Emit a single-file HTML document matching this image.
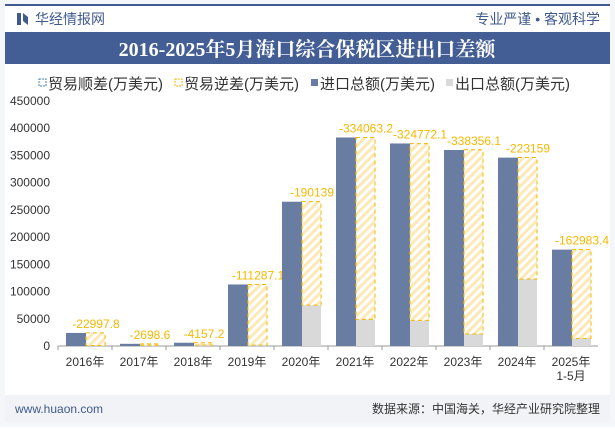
<!DOCTYPE html>
<html><head><meta charset="utf-8">
<style>
body{margin:0;width:615px;height:427px;overflow:hidden;background:#fff;font-family:"Liberation Sans","Noto Sans CJK SC",sans-serif;}
</style></head>
<body>
<svg id="c" width="615" height="427" xmlns="http://www.w3.org/2000/svg">
<defs>
<pattern id="hatch" width="6" height="6" patternUnits="userSpaceOnUse" patternTransform="rotate(45)">
<rect width="6" height="6" fill="#fff"/><rect width="3" height="6" fill="#fde9b8"/>
</pattern>
</defs>
<rect x="0" y="0" width="615" height="427" fill="#f4f6fa"/>
<rect x="5" y="5" width="605" height="417" fill="#fff"/>
<rect x="5" y="4" width="605" height="2" fill="#3f5a8e"/>
<g><rect x="17" y="13" width="4" height="12" fill="#3f5a8e"/><polygon points="23,13 28,17 28,25 23,21" fill="#3f5a8e"/></g>
<text x="35" y="24" font-size="14" fill="#3f5a8e">华经情报网</text>
<text x="600" y="24" font-size="14" fill="#3f5a8e" text-anchor="end">专业严谨 • 客观科学</text>
<rect x="5" y="32" width="605" height="32" fill="#435e94"/>
<text x="307" y="56" font-size="20" font-weight="bold" fill="#fff" text-anchor="middle" font-family="Liberation Serif,Noto Serif CJK SC,serif">2016-2025年5月海口综合保税区进出口差额</text>
<g font-size="15" fill="#333">
<g><rect x="39" y="79" width="7" height="7" fill="#fff" stroke="#4a7fb0" stroke-dasharray="2,1"/><text x="48" y="89">贸易顺差(万美元)</text></g>
<g><rect x="175" y="79" width="7" height="7" fill="#fff" stroke="#f5b800" stroke-dasharray="2,1"/><text x="184" y="89">贸易逆差(万美元)</text></g>
<g><rect x="311" y="79" width="7" height="7" fill="#697ca2"/><text x="320" y="89">进口总额(万美元)</text></g>
<g><rect x="446" y="79" width="7" height="7" fill="#d9d9d9"/><text x="455" y="89">出口总额(万美元)</text></g>
</g>
<g id="plot"></g>
<rect x="5" y="395" width="605" height="27" fill="#f1f3f7"/>
<text x="15" y="413" font-size="12" fill="#3f5a8e">www.huaon.com</text>
<text x="600" y="413" font-size="12" fill="#333" text-anchor="end">数据来源：中国海关，华经产业研究院整理</text>
</svg>
<script>
const categories=["2016年","2017年","2018年","2019年","2020年","2021年","2022年","2023年","2024年","2025年"];
const importVals=[24000,4000,6000,113000,265000,383000,372000,360000,346000,177000];
const exportVals=[1000,1300,1800,1700,75000,49000,47000,22000,123000,14000];
const deficitVals=[22997.8,2698.6,4157.2,111287.1,190139,334063.2,324772.1,338356.1,223159,162983.4];
const yTicks=[0,50000,100000,150000,200000,250000,300000,350000,400000,450000];
const NS="http://www.w3.org/2000/svg";
const g=document.getElementById('plot');
const x0=58,bw=54,yBase=346,yTop=101,yMax=450000;
const y=v=>yBase-(v/yMax)*(yBase-yTop);
function mk(tag,a){const e=document.createElementNS(NS,tag);for(const k in a)e.setAttribute(k,a[k]);g.appendChild(e);return e;}
yTicks.forEach(t=>{
 const e=mk('text',{x:50,y:y(t)+4,'font-size':12,fill:'#333','text-anchor':'end'});e.textContent=t;
 
 
});
const ax=mk('line',{x1:x0,y1:yBase,x2:x0+bw*categories.length,y2:yBase,stroke:'#999'});


categories.forEach((c,i)=>{
 const L=x0+i*bw;
 const tk=mk('line',{x1:L,y1:yBase,x2:L,y2:yBase+4,stroke:'#999'});
 
 
 const ib=mk('rect',{x:L+8,y:y(importVals[i]),width:20,height:yBase-y(importVals[i]),fill:'#697ca2'});
 
 
 const eb=mk('rect',{x:L+28,y:y(exportVals[i]),width:19,height:yBase-y(exportVals[i]),fill:'#d9d9d9'});
 
 
 const top=exportVals[i]+deficitVals[i];
 const db=mk('rect',{x:L+28,y:y(top),width:19,height:y(exportVals[i])-y(top),fill:'url(#hatch)',stroke:'#f5b800','stroke-dasharray':'4,3'});
 
 
 const lb=mk('text',{x:L+38,y:y(top)-5,'font-size':12,fill:'#f5b800','text-anchor':'middle'});lb.textContent='-'+deficitVals[i];
 
 
 const xl=mk('text',{x:L+bw/2,y:366,'font-size':12,fill:'#333','text-anchor':'middle'});xl.textContent=c;
 
 
});
const sub=mk('text',{x:x0+9.5*bw,y:380,'font-size':12,fill:'#333','text-anchor':'middle'});sub.textContent='1-5月';


</script>
</body></html>
